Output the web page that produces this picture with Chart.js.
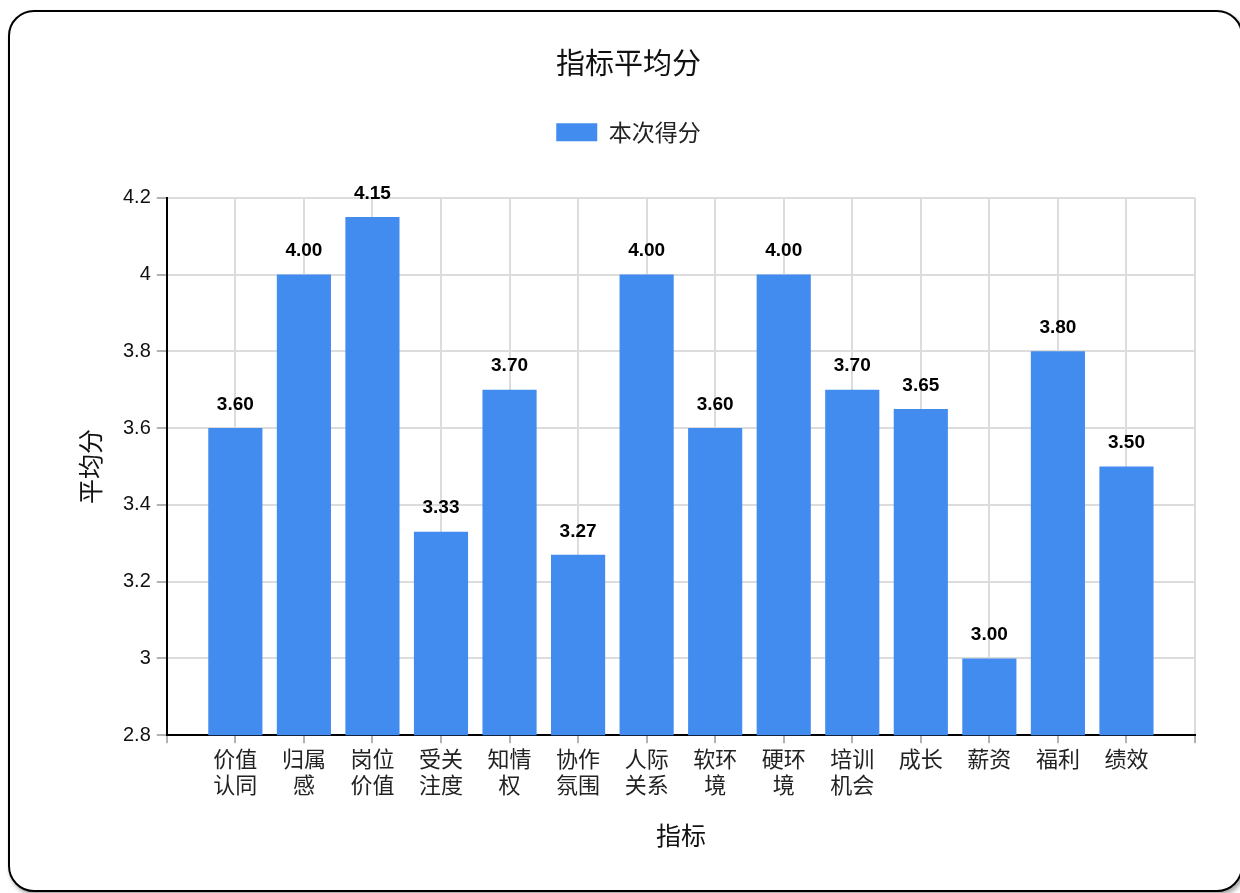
<!DOCTYPE html>
<html lang="zh">
<head>
<meta charset="UTF-8">
<title>指标平均分</title>
<style>
  html, body { margin: 0; padding: 0; background: #fff; overflow: hidden; }
  #box {
    position: absolute; left: 8px; top: 10px; width: 1231px; height: 878px;
    border: 2px solid #000; border-radius: 26px; background: #fff;
    box-shadow: 2px 3px 4px rgba(0,0,0,0.35); overflow: hidden;
  }
  #wrap { position: absolute; left: 0; top: 0; width: 1231px; height: 878px; }
</style>
</head>
<body>
<div id="box"><div id="wrap"><canvas id="c"></canvas></div></div>
<script src="https://cdn.jsdelivr.net/npm/chart.js"></script>
<script>
const categories = [['价值','认同'], ['归属','感'], ['岗位','价值'], ['受关','注度'], ['知情','权'],
  ['协作','氛围'], ['人际','关系'], ['软环','境'], ['硬环','境'], ['培训','机会'],
  '成长', '薪资', '福利', '绩效'];
const scores = [3.60, 4.00, 4.15, 3.33, 3.70, 3.27, 4.00, 3.60, 4.00, 3.70, 3.65, 3.00, 3.80, 3.50];
const yTicks = [2.8, 3, 3.2, 3.4, 3.6, 3.8, 4, 4.2];

const cjk = '"Noto Sans CJK SC", "Noto Sans", sans-serif';
const latin = '"Liberation Sans", Arial, sans-serif';

// extra space under the legend
const legendGap = {
  id: 'legendGap',
  beforeInit(chart) {
    const fit = chart.legend.fit;
    chart.legend.fit = function () {
      fit.call(this);
      this.height += 44;
    };
  }
};

const valueLabels = {
  id: 'valueLabels',
  afterDatasetsDraw(chart) {
    const ctx = chart.ctx;
    const meta = chart.getDatasetMeta(0);
    ctx.save();
    ctx.font = 'bold 19px ' + latin;
    ctx.fillStyle = '#000';
    ctx.textAlign = 'center';
    ctx.textBaseline = 'bottom';
    meta.data.forEach((bar, i) => {
      ctx.fillText(scores[i].toFixed(2), bar.x, bar.y - 14);
    });
    ctx.restore();
  }
};

new Chart(document.getElementById('c'), {
  type: 'bar',
  data: {
    datasets: [{
      label: '本次得分',
      data: scores.map((v, i) => ({ x: i, y: v })),
      backgroundColor: '#428cef',
      borderWidth: 0,
      barPercentage: 0.79,
      categoryPercentage: 1
    }]
  },
  options: {
    responsive: true,
    maintainAspectRatio: false,
    animation: false,
    layout: { padding: { left: 52, right: 46, top: 24, bottom: 36 } },
    plugins: {
      title: {
        display: true, text: '指标平均分', color: '#111',
        font: { family: cjk, size: 29, weight: 'normal' },
        padding: { top: 10, bottom: 30 }
      },
      legend: {
        labels: {
          boxWidth: 41, boxHeight: 18, color: '#222', padding: 10,
          font: { family: cjk, size: 23 }
        }
      },
      tooltip: { enabled: false }
    },
    scales: {
      x: {
        type: 'linear', min: -1, max: 14, offset: false,
        grid: { offset: false, color: '#dcdcdc', lineWidth: 2, tickLength: 8, tickColor: '#666', tickWidth: 1 },
        border: { color: '#000', width: 2 },
        ticks: {
          stepSize: 1, autoSkip: false, maxRotation: 0, color: '#222', padding: 2,
          font: { family: cjk, size: 22, lineHeight: 1.2 },
          callback: v => categories[v] !== undefined ? categories[v] : ''
        },
        title: {
          display: true, text: '指标', color: '#111',
          font: { family: cjk, size: 25 }, padding: { top: 20 }
        }
      },
      y: {
        min: 2.8, max: 4.2,
        afterBuildTicks: axis => { axis.ticks = yTicks.map(v => ({ value: v })); },
        grid: { color: '#dcdcdc', lineWidth: 2, tickLength: 10, tickColor: '#666', tickWidth: 1 },
        border: { color: '#000', width: 2 },
        ticks: {
          color: '#111', padding: 6,
          font: { family: latin, size: 20 },
          callback: v => String(Number(v.toFixed(1)))
        },
        title: {
          display: true, text: '平均分', color: '#111',
          font: { family: cjk, size: 25 }, padding: { top: 13, bottom: 12 }
        }
      }
    }
  },
  plugins: [legendGap, valueLabels]
});
</script>
</body>
</html>
